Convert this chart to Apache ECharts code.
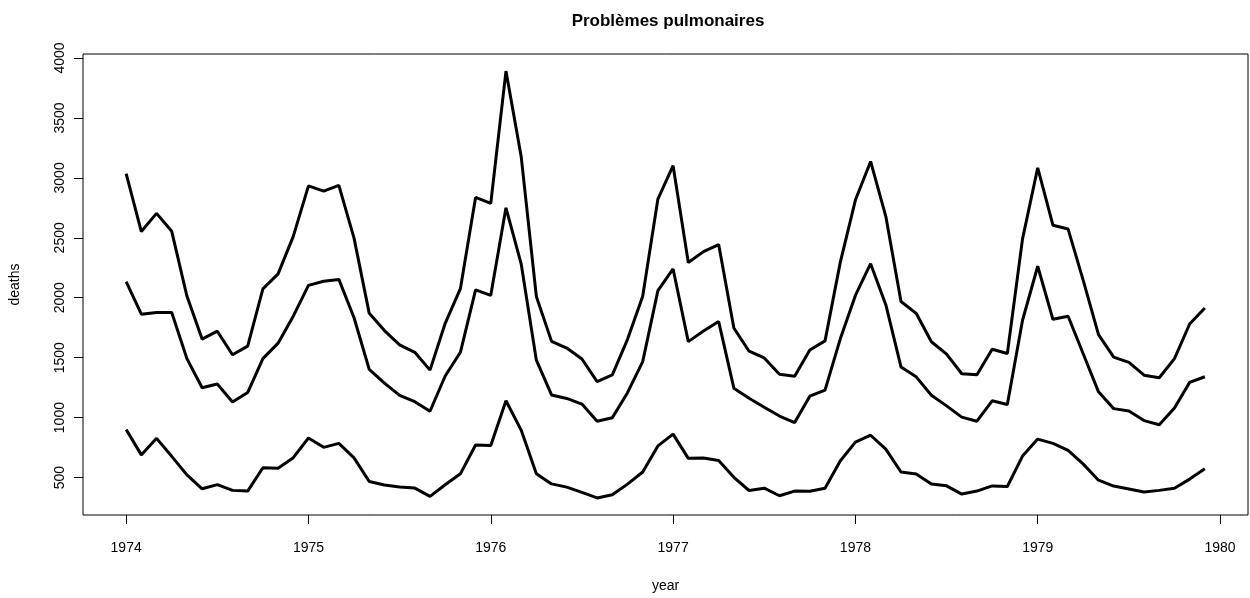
<!DOCTYPE html>
<html>
<head>
<meta charset="utf-8">
<script src="https://cdn.jsdelivr.net/npm/echarts@6/dist/echarts.min.js"></script>
<style>
    html, body { margin: 0; padding: 0; background: #fff; }
    #chart_box { width: 1250px; height: 598px; }
</style>
</head>
<body>
<div id="chart_box"></div>
<script>
(function() {

    // monthly deaths 1974-1979
    var startYear = 1974;
    var totalDeaths = [
        3035, 2552, 2704, 2554, 2014, 1655, 1721, 1524, 1596, 2074, 2199, 2512,
        2933, 2889, 2938, 2497, 1870, 1726, 1607, 1545, 1396, 1787, 2076, 2837,
        2787, 3891, 3179, 2011, 1636, 1580, 1489, 1300, 1356, 1653, 2013, 2823,
        3102, 2294, 2385, 2444, 1748, 1554, 1498, 1361, 1346, 1564, 1640, 2293,
        2815, 3137, 2679, 1969, 1870, 1633, 1529, 1366, 1357, 1570, 1535, 2491,
        3084, 2605, 2573, 2143, 1693, 1504, 1461, 1354, 1333, 1492, 1781, 1915
    ];
    var maleDeaths = [
        2134, 1863, 1877, 1877, 1492, 1249, 1280, 1131, 1209, 1492, 1621, 1846,
        2103, 2137, 2153, 1833, 1403, 1288, 1186, 1133, 1053, 1347, 1545, 2066,
        2020, 2750, 2283, 1479, 1189, 1160, 1113, 970, 999, 1208, 1467, 2059,
        2240, 1634, 1722, 1801, 1246, 1162, 1087, 1013, 959, 1179, 1229, 1655,
        2019, 2284, 1942, 1423, 1340, 1187, 1098, 1004, 970, 1140, 1110, 1812,
        2263, 1820, 1846, 1531, 1215, 1075, 1056, 975, 940, 1081, 1294, 1341
    ];
    var femaleDeaths = [
        901, 689, 827, 677, 522, 406, 441, 393, 387, 582, 578, 666,
        830, 752, 785, 664, 467, 438, 421, 412, 343, 440, 531, 771,
        767, 1141, 896, 532, 447, 420, 376, 330, 357, 445, 546, 764,
        862, 660, 663, 643, 502, 392, 411, 348, 387, 385, 411, 638,
        796, 853, 737, 546, 530, 446, 431, 362, 387, 430, 425, 679,
        821, 785, 727, 612, 478, 429, 405, 379, 393, 411, 487, 574
    ];
    var xTicks = [1974, 1975, 1976, 1977, 1978, 1979, 1980];
    var yTicks = [500, 1000, 1500, 2000, 2500, 3000, 3500, 4000];

    function toPoints(values) {
        var pts = [];
        for (var i = 0; i < values.length; i++) {
            pts.push([startYear + i / 12, values[i]]);
        }
        return pts;
    }

    function lineSeries(name, values) {
        return {
            name: name,
            type: 'line',
            data: toPoints(values),
            showSymbol: false,
            symbol: 'none',
            lineStyle: { color: '#000', width: 3 },
            silent: true
        };
    }

    // marge de 4% comme dans R
    var xLast = startYear + (totalDeaths.length - 1) / 12;
    var xPad = (xLast - startYear) * 0.04;
    var yMin = Math.min.apply(null, femaleDeaths);
    var yMax = Math.max.apply(null, totalDeaths);
    var yPad = (yMax - yMin) * 0.04;

    var font = 'Liberation Sans, Arial, sans-serif';
    var plain = function(v) { return String(v); };

    var myChart = echarts.init(document.getElementById('chart_box'));
    myChart.setOption({
        animation: false,
        backgroundColor: '#fff',
        title: {
            text: 'Problèmes pulmonaires',
            left: 663,
            top: 8,
            textAlign: 'center',
            textStyle: {
                color: '#000',
                fontWeight: 'bold',
                fontSize: 17,
                fontFamily: font
            }
        },
        grid: {
            left: 78,
            right: 2,
            top: 54,
            bottom: 82,
            show: true,
            borderColor: '#000',
            borderWidth: 1
        },
        xAxis: {
            type: 'value',
            min: startYear - xPad,
            max: xLast + xPad,
            name: 'year',
            nameLocation: 'middle',
            nameGap: 64,
            nameTextStyle: { color: '#000', fontSize: 14, fontFamily: font },
            axisLine: { show: false },
            splitLine: { show: false },
            axisTick: {
                show: true,
                inside: false,
                length: 9,
                customValues: xTicks,
                lineStyle: { color: '#000' }
            },
            axisLabel: {
                customValues: xTicks,
                formatter: plain,
                margin: 26,
                color: '#000',
                fontSize: 14,
                fontFamily: font
            }
        },
        yAxis: {
            type: 'value',
            min: yMin - yPad,
            max: yMax + yPad,
            name: 'deaths',
            nameLocation: 'middle',
            nameGap: 61,
            nameRotate: 90,
            nameTextStyle: { color: '#000', fontSize: 14, fontFamily: font },
            axisLine: { show: false },
            splitLine: { show: false },
            axisTick: {
                show: true,
                inside: false,
                length: 9,
                customValues: yTicks,
                lineStyle: { color: '#000' }
            },
            axisLabel: {
                customValues: yTicks,
                formatter: plain,
                rotate: 90,
                margin: 16,
                color: '#000',
                fontSize: 14,
                fontFamily: font
            }
        },
        series: [
            lineSeries('ldeaths', totalDeaths),
            lineSeries('mdeaths', maleDeaths),
            lineSeries('fdeaths', femaleDeaths)
        ]
    });
})();
</script>
</body>
</html>
